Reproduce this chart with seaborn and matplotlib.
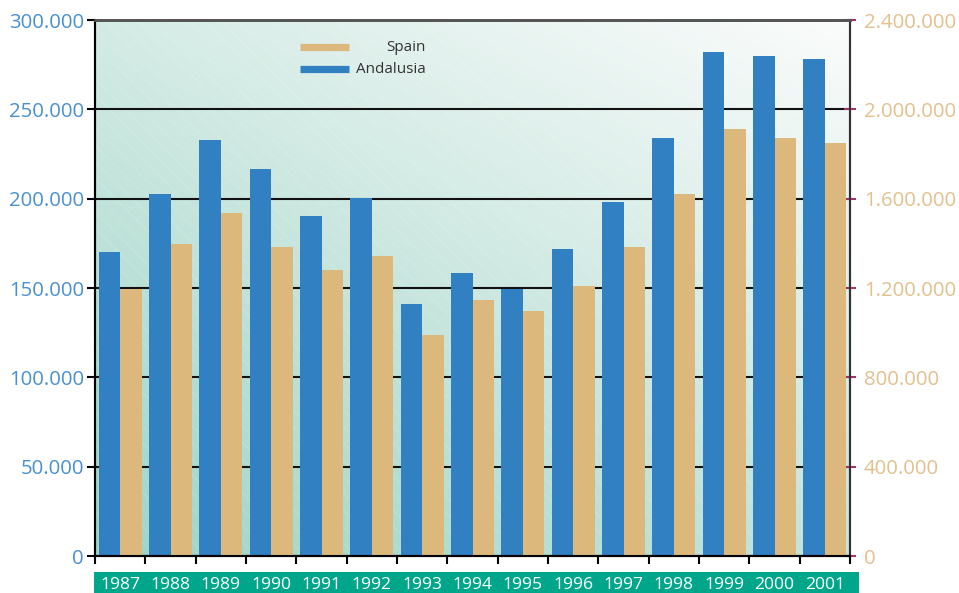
import numpy as np
import pandas as pd
import matplotlib
matplotlib.use("Agg")
import matplotlib.pyplot as plt
from matplotlib.colors import LinearSegmentedColormap
from matplotlib.patches import Rectangle
from matplotlib.lines import Line2D
from matplotlib.ticker import FuncFormatter, MultipleLocator, FixedLocator
import seaborn as sns

years = ["1987", "1988", "1989", "1990", "1991", "1992", "1993", "1994",
         "1995", "1996", "1997", "1998", "1999", "2000", "2001"]
andalusia = [170000, 202500, 233000, 216700, 190300, 200500, 141000, 158500,
             149500, 172000, 198200, 234000, 282000, 280000, 278300]
spain = [1196000, 1397000, 1536000, 1384000, 1281000, 1343000, 990000, 1146000,
         1097000, 1209000, 1384000, 1621000, 1912000, 1872000, 1849000]

BLUE = "#3180c2"
TAN = "#ddb87c"
hue_order = ["Andalusia", "Spain"]
palette = {"Andalusia": BLUE, "Spain": TAN}

df_a = pd.DataFrame({"year": years, "value": andalusia, "series": "Andalusia"})
df_s = pd.DataFrame({"year": years, "value": spain, "series": "Spain"})

sns.set_theme(style="white")
plt.rcParams["font.family"] = ["Open Sans", "DejaVu Sans"]
plt.rcParams["hatch.linewidth"] = 0.5

W, H = 959, 593
fig = plt.figure(figsize=(W / 100, H / 100), dpi=100)
L, R, T, B = 95, 850, 20, 556
pos = [L / W, 1 - B / H, (R - L) / W, (B - T) / H]

# background gradient
bg = fig.add_axes(pos, zorder=-2)
nx, ny = 300, 200
xx, yy = np.meshgrid(np.linspace(0, 1, nx), np.linspace(0, 1, ny))
tt = 0.42 * xx + 0.58 * yy
cmap = LinearSegmentedColormap.from_list(
    "bg", [(0, "#9dd5c7"), (0.42, "#c4e4dc"), (0.6, "#d6ece6"), (1, "#fbfcfc")])
bg.imshow(tt, cmap=cmap, origin="lower", extent=(0, 1, 0, 1), aspect="auto",
          vmin=0, vmax=1, interpolation="bilinear")
bg.add_patch(Rectangle((0, 0), 1, 1, transform=bg.transAxes, fill=False,
                       hatch="\\\\", edgecolor=(1, 1, 1, 0.22), lw=0))
bg.set_xlim(0, 1)
bg.set_ylim(0, 1)
bg.axis("off")

ax = fig.add_axes(pos)
ax.patch.set_alpha(0)
sns.barplot(data=df_a, x="year", y="value", hue="series", hue_order=hue_order,
            palette=palette, width=0.86, saturation=1, legend=False, ax=ax,
            order=years, dodge=True)
ax2 = ax.twinx()
sns.barplot(data=df_s, x="year", y="value", hue="series", hue_order=hue_order,
            palette=palette, width=0.86, saturation=1, legend=False, ax=ax2,
            order=years, dodge=True)
for a in (ax, ax2):
    for p in a.patches:
        p.set_linewidth(0)
        p.set_edgecolor("none")

ax.set_xlim(-0.5, len(years) - 0.5)
ax.set_ylim(0, 300000)
ax2.set_ylim(0, 2400000)
ax.yaxis.set_major_locator(MultipleLocator(50000))
ax2.yaxis.set_major_locator(MultipleLocator(400000))
fmt = FuncFormatter(lambda v, p: f"{int(round(v)):,}".replace(",", "."))
ax.yaxis.set_major_formatter(fmt)
ax2.yaxis.set_major_formatter(fmt)

ax.set_axisbelow(True)
ax.yaxis.grid(True, color="#111111", lw=1.5)
ax.xaxis.grid(False)
ax2.grid(False)

ax.set_xlabel("")
ax.set_ylabel("")
ax2.set_xlabel("")
ax2.set_ylabel("")

ax.tick_params(axis="y", which="major", direction="out", length=6, width=1.5,
               color="black", labelsize=14.7, labelcolor="#4a90d0", pad=2,
               left=True)
ax2.tick_params(axis="y", which="major", direction="inout", length=8, width=1.5,
                color="#a8306b", labelsize=14.7, labelcolor="#e3c08e", pad=6,
                right=True)

# x ticks: labels centred, tick marks on boundaries
ax.set_xticks(range(len(years)))
ax.set_xticklabels(years)
ax.xaxis.set_minor_locator(FixedLocator(np.arange(-0.5, len(years), 1.0)))
ax.tick_params(axis="x", which="major", length=0, labelsize=12.6,
               labelcolor="white", pad=15)
ax.tick_params(axis="x", which="minor", direction="out", length=6, width=1.5,
               color="black", bottom=True)
ax2.tick_params(axis="x", which="both", length=0, labelbottom=False)

for a in (ax, ax2):
    a.spines["left"].set_color("black")
    a.spines["left"].set_linewidth(1.5)
    a.spines["bottom"].set_color("black")
    a.spines["bottom"].set_linewidth(1.5)
    a.spines["top"].set_color("#555555")
    a.spines["top"].set_linewidth(2)
    a.spines["right"].set_color("#333333")
    a.spines["right"].set_linewidth(1.5)

# green band under the axis
fig.patches.append(Rectangle((94 / W, 0), (859 - 94) / W, (593 - 572) / H,
                             transform=fig.transFigure, facecolor="#00a68a",
                             edgecolor="none", zorder=-3))

# legend
for yv, col, lab in [(0.949, TAN, "Spain"), (0.908, BLUE, "Andalusia")]:
    ax2.add_line(Line2D([0.2715, 0.3364], [yv, yv], transform=ax2.transAxes,
                        color=col, lw=5.2, solid_capstyle="butt"))
    ax2.text(0.4384, yv, lab, transform=ax2.transAxes, ha="right",
             va="center", fontsize=11, color="#333333")

fig.savefig("out.png", dpi=100)
